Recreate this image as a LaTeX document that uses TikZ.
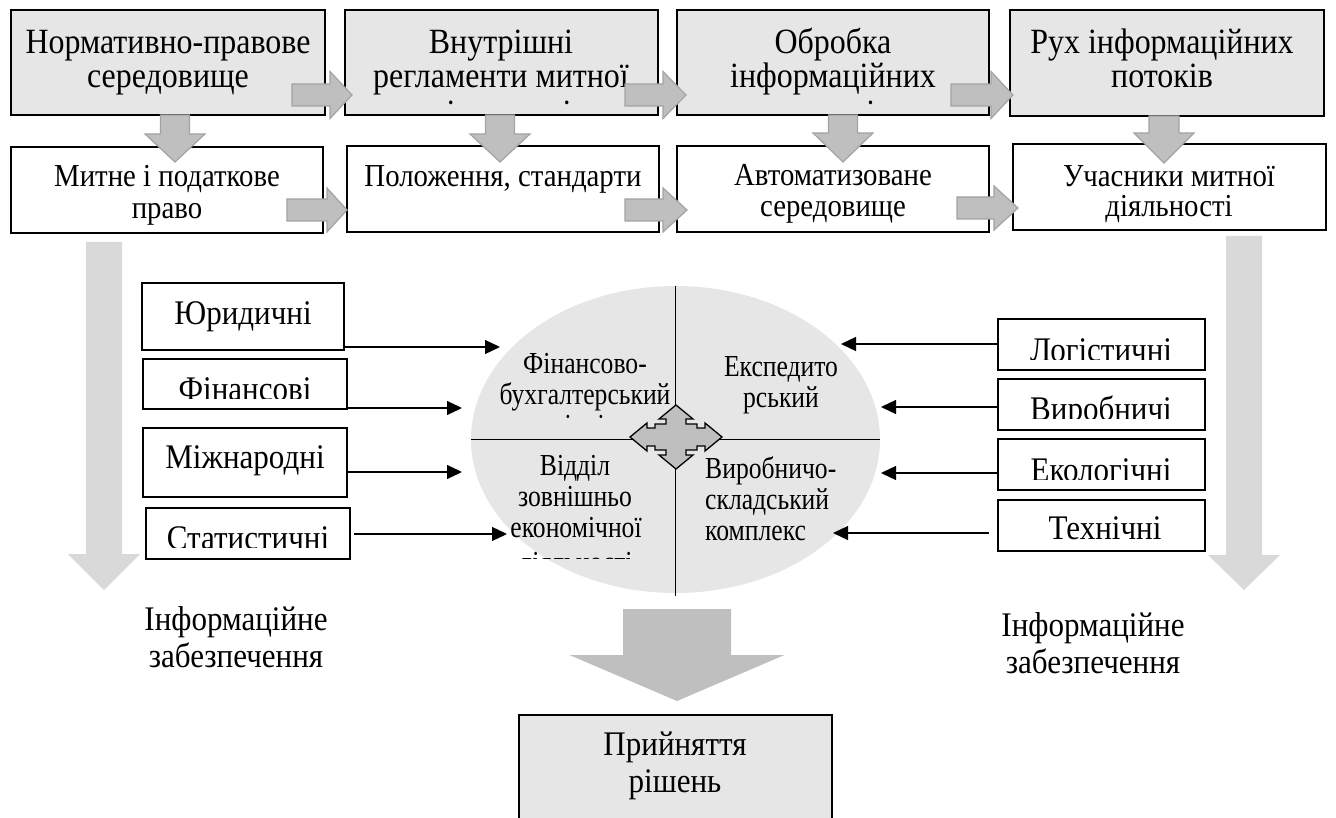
\documentclass[tikz,border=0pt]{standalone}
\usepackage{fontspec}
\setmainfont{Liberation Serif}[FakeStretch=0.9]
\newfontfamily\ellfont{Liberation Serif}[FakeStretch=0.84]
\usetikzlibrary{arrows.meta,shapes.geometric}
\definecolor{boxgray}{HTML}{E6E6E6}
\definecolor{arrgray}{HTML}{BFBFBF}
\definecolor{arredge}{HTML}{A3A3A3}
\definecolor{biggray}{HTML}{D9D9D9}
\newcommand{\rblock}[6]{%
  \filldraw[blockarr] (#1,#4-#5) -- (#2,#4-#5) -- (#2,#4-#6) -- (#3,#4) -- (#2,#4+#6) -- (#2,#4+#5) -- (#1,#4+#5) -- cycle;}
\newcommand{\dblock}[7]{%
  \filldraw[#7] (#1-#5,#2) -- (#1-#5,#3) -- (#1-#6,#3) -- (#1,#4) -- (#1+#6,#3) -- (#1+#5,#3) -- (#1+#5,#2) -- cycle;}
\begin{document}
\begin{tikzpicture}[x=1pt,y=-1pt,
  topbox/.style={draw=black,line width=2.5pt,fill=boxgray,inner sep=0pt},
  lowbox/.style={draw=black,line width=2.5pt,fill=white,inner sep=0pt},
  sidebox/.style={draw=black,line width=2.6pt,fill=white,inner sep=0pt},
  blockarr/.style={fill=arrgray,draw=arredge,line width=1.2pt},
  bigarr/.style={fill=biggray,draw=none},
  botarr/.style={fill=arrgray,draw=none},
  conn/.style={line width=1.3pt,-{Triangle[length=15pt,width=14pt]}},
  divline/.style={line width=1.6pt},
  ttop/.style={font=\fontsize{35.5}{39}\selectfont,inner sep=0pt,anchor=base},
  tlow/.style={font=\fontsize{32}{35}\selectfont,inner sep=0pt,anchor=base},
  tside/.style={font=\fontsize{34.5}{38}\selectfont,inner sep=0pt,anchor=base},
  tell/.style={font=\ellfont\fontsize{30.5}{33}\selectfont,inner sep=0pt,anchor=base},
]
\useasboundingbox (0,0) rectangle (1336,818);
\clip (0,0) rectangle (1336,818);

% big light arrows
\dblock{104}{242}{554}{590}{18}{36}{bigarr}
\dblock{1244}{236}{555}{590}{18}{36}{bigarr}

% top row boxes
\node[topbox,minimum width=314pt,minimum height=105pt] (b1) at (168,62.5) {};
\node[topbox,minimum width=313pt,minimum height=105pt] (b2) at (501.5,62.5) {};
\node[topbox,minimum width=312pt,minimum height=105pt] (b3) at (833,62.5) {};
\node[topbox,minimum width=314pt,minimum height=106pt] (b4) at (1167,63) {};
% lower row boxes
\node[lowbox,minimum width=312pt,minimum height=86pt] (l1) at (167,190) {};
\node[lowbox,minimum width=312pt,minimum height=86pt] (l2) at (503,189) {};
\node[lowbox,minimum width=312pt,minimum height=86pt] (l3) at (833,189) {};
\node[lowbox,minimum width=313pt,minimum height=86pt] (l4) at (1169.5,187) {};

% top row text
\node[ttop] (t1a) at (168,54) {Нормативно-правове};
\node[ttop] (t1b) at (168,88) {середовище};
\node[ttop] (t2a) at (501,54) {Внутрішні};
\node[ttop] (t2b) at (501,88) {регламенти митної};
\node[ttop] (t3a) at (833,54) {Обробка};
\node[ttop] (t3b) at (833,88) {інформаційних};
\node[ttop] (t4a) at (1162,54) {Рух інформаційних};
\node[ttop] (t4b) at (1162,88) {потоків};
\begin{scope}
  \clip (346,12) rectangle (657,107);
  \node[ttop] (t2c) at (501,125) {діяльності};
\end{scope}
\begin{scope}
  \clip (678,12) rectangle (988,107);
  \node[ttop] (t3c) at (833,125) {ресурсів};
\end{scope}

% lower row text
\node[tlow] (s1a) at (167,187) {Митне і податкове};
\node[tlow] (s1b) at (167,219) {право};
\node[tlow] (s2a) at (503,187) {Положення, стандарти};
\node[tlow] (s3a) at (833,186) {Автоматизоване};
\node[tlow] (s3b) at (833,217) {середовище};
\node[tlow] (s4a) at (1169,187) {Учасники митної};
\node[tlow] (s4b) at (1169,217) {діяльності};

% block arrows, top row
\rblock{292}{330}{352}{95}{11}{23.5}
\rblock{625}{663}{686}{95}{11}{23.5}
\rblock{951}{991}{1013}{95}{11}{23.5}
% block arrows, lower row
\rblock{287}{327}{347}{210}{11}{22}
\rblock{625}{663}{687}{210}{11}{22}
\rblock{957}{994}{1018}{208}{11}{22}
% down arrows
\dblock{175}{115}{134}{162}{14.5}{30}{blockarr}
\dblock{500}{115}{134}{162}{14.5}{30}{blockarr}
\dblock{843}{115}{133}{162}{14.5}{30}{blockarr}
\dblock{1164}{116}{133}{163}{15}{30}{blockarr}

% ellipse
\node[ellipse,fill=boxgray,draw=none,minimum width=409pt,minimum height=307pt,inner sep=0pt] (ell) at (675.5,439.5) {};
\draw[divline] (ell.north) -- ([yshift=-3pt]ell.south);
\draw[divline] (ell.west) -- (ell.east);

% ellipse texts
\node[tell] (e1a) at (585,373) {Фінансово-};
\node[tell] (e1b) at (585,404) {бухгалтерський};
\begin{scope}
  \clip (480,407) rectangle (672,419);
  \node[tell] (e1c) at (585,435) {відділ};
\end{scope}
\node[tell] (e2a) at (781,376) {Експедито};
\node[tell] (e2b) at (781,407) {рський};
\node[tell] (e3a) at (575,475) {Відділ};
\node[tell] (e3b) at (575,506) {зовнішньо};
\node[tell] (e3c) at (576,537) {економічної};
\begin{scope}
  \clip (480,543) rectangle (672,558);
  \node[tell] (e3d) at (576,572) {діяльності};
\end{scope}
\node[tell,anchor=base west] (e4a) at (705,478) {Виробничо-};
\node[tell,anchor=base west] (e4b) at (705,509) {складський};
\node[tell,anchor=base west] (e4c) at (705,540) {комплекс};

% four-way arrow
\begin{scope}[shift={(676,437)}]
\filldraw[fill=arrgray,draw=black,line width=1.3pt]
  (0,-32) -- (17,-18) -- (10,-18) -- (10,-13) -- (21,-13) -- (21,-9) -- (29,-9) -- (29,-14)
  -- (46,0) -- (29,14) -- (29,9) -- (21,9) -- (21,13) -- (10,13) -- (10,18) -- (17,18)
  -- (0,32) -- (-17,18) -- (-10,18) -- (-10,13) -- (-21,13) -- (-21,9) -- (-29,9) -- (-29,14)
  -- (-46,0) -- (-29,-14) -- (-29,-9) -- (-21,-9) -- (-21,-13) -- (-10,-13) -- (-10,-18) -- (-17,-18) -- cycle;
\end{scope}

% left side boxes
\node[sidebox,minimum width=202pt,minimum height=67pt] (jur) at (243,316.5) {};
\node[sidebox,minimum width=204pt,minimum height=50pt] (fin) at (245,384) {};
\node[sidebox,minimum width=204pt,minimum height=69pt] (mizh) at (245,462.5) {};
\node[sidebox,minimum width=204pt,minimum height=51pt] (stat) at (248,533.5) {};
\node[tside] (tjur) at (243,325) {Юридичні};
\begin{scope}
  \clip (143,360) rectangle (347,398);
  \node[tside] (tfin) at (245,400) {Фінансові};
\end{scope}
\node[tside] (tmizh) at (245,468) {Міжнародні};
\begin{scope}
  \clip (146,509) rectangle (350,547);
  \node[tside] (tstat) at (248,549) {Статистичні};
\end{scope}

% right side boxes
\node[sidebox,minimum width=207pt,minimum height=51pt] (log) at (1101.5,344.5) {};
\node[sidebox,minimum width=207pt,minimum height=51pt] (vyr) at (1101.5,404.5) {};
\node[sidebox,minimum width=207pt,minimum height=51pt] (eko) at (1101.5,464.5) {};
\node[sidebox,minimum width=207pt,minimum height=51pt] (tekh) at (1101.5,525.5) {};
\begin{scope}
  \clip (998,320) rectangle (1205,359);
  \node[tside] (tlog) at (1101,361) {Логістичні};
\end{scope}
\begin{scope}
  \clip (998,380) rectangle (1205,418);
  \node[tside] (tvyr) at (1101,420) {Виробничі};
\end{scope}
\begin{scope}
  \clip (998,440) rectangle (1205,479);
  \node[tside] (teko) at (1101,481) {Екологічні};
\end{scope}
\node[tside] (ttekh) at (1105,539) {Технічні};

% connectors
\coordinate (pJ) at (500,347);
\coordinate (pF) at (462,408);
\coordinate (pM) at (462,472);
\coordinate (pS) at (507,534);
\coordinate (pL) at (841,344);
\coordinate (pV) at (881,407);
\coordinate (pE) at (881,473);
\coordinate (pT) at (833,533);
\draw[conn] (jur.east |- pJ) -- (pJ);
\draw[conn] (fin.east |- pF) -- (pF);
\draw[conn] (mizh.east |- pM) -- (pM);
\draw[conn] ([xshift=3pt]stat.east |- pS) -- (pS);
\draw[conn] (log.west |- pL) -- (pL);
\draw[conn] (vyr.west |- pV) -- (pV);
\draw[conn] (eko.west |- pE) -- (pE);
\draw[conn] ([xshift=-8pt]tekh.west |- pT) -- (pT);

% information labels
\node[tside] (inf1a) at (236,630) {Інформаційне};
\node[tside] (inf1b) at (236,667) {забезпечення};
\node[tside] (inf2a) at (1093,636) {Інформаційне};
\node[tside] (inf2b) at (1093,673) {забезпечення};

% bottom arrow and box
\dblock{677}{609}{655}{701}{54}{107.5}{botarr}
\node[topbox,line width=2.8pt,minimum width=313pt,minimum height=125pt] (dec) at (675.5,777.5) {};
\node[tside] (dec1) at (675,755) {Прийняття};
\node[tside] (dec2) at (675,792) {рішень};
\end{tikzpicture}
\end{document}
